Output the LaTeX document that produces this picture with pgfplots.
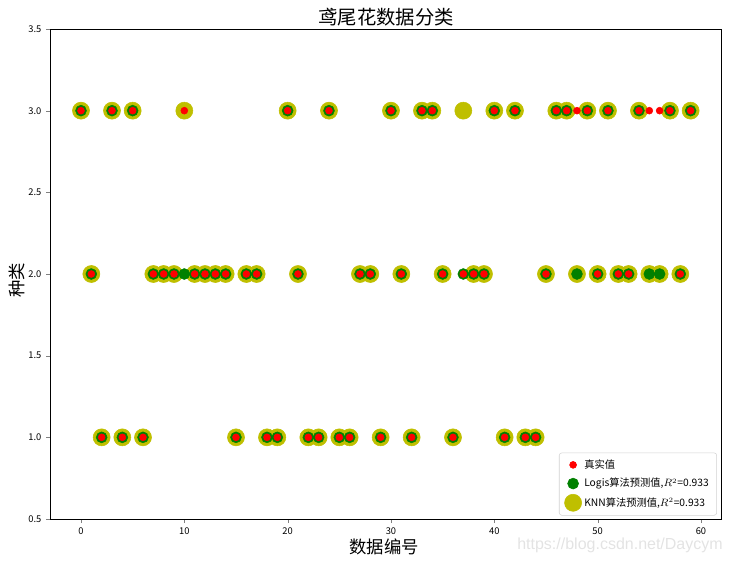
\documentclass[border=0pt]{standalone}
\usepackage{fontspec}
\setmainfont{Noto Sans CJK SC}
\newfontfamily\wmfont{Liberation Sans}
\usepackage{pgfplots}
\usepackage{pgfplotstable}
\pgfplotsset{compat=1.18}

\definecolor{cTrue}{HTML}{FF0000}
\definecolor{cLog}{HTML}{008000}
\definecolor{cKnn}{HTML}{BFBF00}

% idx, true class, logistic prediction, knn prediction
\pgfplotstableread{
x t l k
0 3 3 3
1 2 2 2
2 1 1 1
3 3 3 3
4 1 1 1
5 3 3 3
6 1 1 1
7 2 2 2
8 2 2 2
9 2 2 2
10 3 2 3
11 2 2 2
12 2 2 2
13 2 2 2
14 2 2 2
15 1 1 1
16 2 2 2
17 2 2 2
18 1 1 1
19 1 1 1
20 3 3 3
21 2 2 2
22 1 1 1
23 1 1 1
24 3 3 3
25 1 1 1
26 1 1 1
27 2 2 2
28 2 2 2
29 1 1 1
30 3 3 3
31 2 2 2
32 1 1 1
33 3 3 3
34 3 3 3
35 2 2 2
36 1 1 1
37 2 2 3
38 2 2 2
39 2 2 2
40 3 3 3
41 1 1 1
42 3 3 3
43 1 1 1
44 1 1 1
45 2 2 2
46 3 3 3
47 3 3 3
48 3 2 2
49 3 3 3
50 2 2 2
51 3 3 3
52 2 2 2
53 2 2 2
54 3 3 3
55 3 2 2
56 3 2 2
57 3 3 3
58 2 2 2
59 3 3 3
}\iris

\begin{document}
\begin{tikzpicture}
\useasboundingbox (-37.5pt,-32.25pt) rectangle (510pt,389.25pt);
\begin{axis}[
  at={(0,0)}, anchor=south west,
  scale only axis, width=503.25pt, height=367.5pt,
  xmin=-3.0, xmax=61.94, ymin=0.5, ymax=3.5,
  xtick={0,10,...,60}, ytick={0.5,1,1.5,2,2.5,3,3.5},
  yticklabel style={/pgf/number format/.cd, fixed, fixed zerofill, precision=1},
  /pgf/number format/assume math mode=true,
  tick label style={font=\fontsize{7}{8}\selectfont},
  tick align=outside, tick pos=left,
  major tick length=3pt,
  axis line style={line width=0.6pt},
  clip=false,
  legend cell align=left,
  legend style={at={(rel axis cs:0.994,0.007)}, anchor=south east,
    draw=gray!35, rounded corners=2pt, font=\fontsize{7.7}{9}\selectfont,
    row sep=2pt, inner xsep=4pt, inner ysep=3pt},
]
\addplot[forget plot, only marks, mark=*, mark size=6.4pt, cKnn, mark options={draw=none}] table[x=x, y=k] {\iris};
\addplot[forget plot, only marks, mark=*, mark size=4.1pt, cLog, mark options={draw=none}] table[x=x, y=l] {\iris};
\addplot[forget plot, only marks, mark=*, mark size=2.6pt, cTrue, mark options={draw=none}] table[x=x, y=t] {\iris};
\addlegendimage{only marks, mark=*, mark size=2.6pt, cTrue, mark options={draw=none}}
\addlegendentry{真实值}
\addlegendimage{only marks, mark=*, mark size=4.1pt, cLog, mark options={draw=none}}
\addlegendentry{Logis算法预测值,$R^2$=0.933}
\addlegendimage{only marks, mark=*, mark size=6.4pt, cKnn, mark options={draw=none}}
\addlegendentry{KNN算法预测值,$R^2$=0.933}
\end{axis}
\node[font=\fontsize{14.5}{16}\selectfont] at (252pt,376.5pt) {鸢尾花数据分类};
\node[font=\fontsize{13}{15}\selectfont] at (250.5pt,-21pt) {数据编号};
\node[font=\fontsize{13}{15}\selectfont, rotate=90] at (-24.75pt,179pt) {种类};
\node[font=\wmfont\fontsize{12}{14}\selectfont, text=gray!22] at (427.5pt,-19.5pt) {https://blog.csdn.net/Daycym};
\end{tikzpicture}
\end{document}
